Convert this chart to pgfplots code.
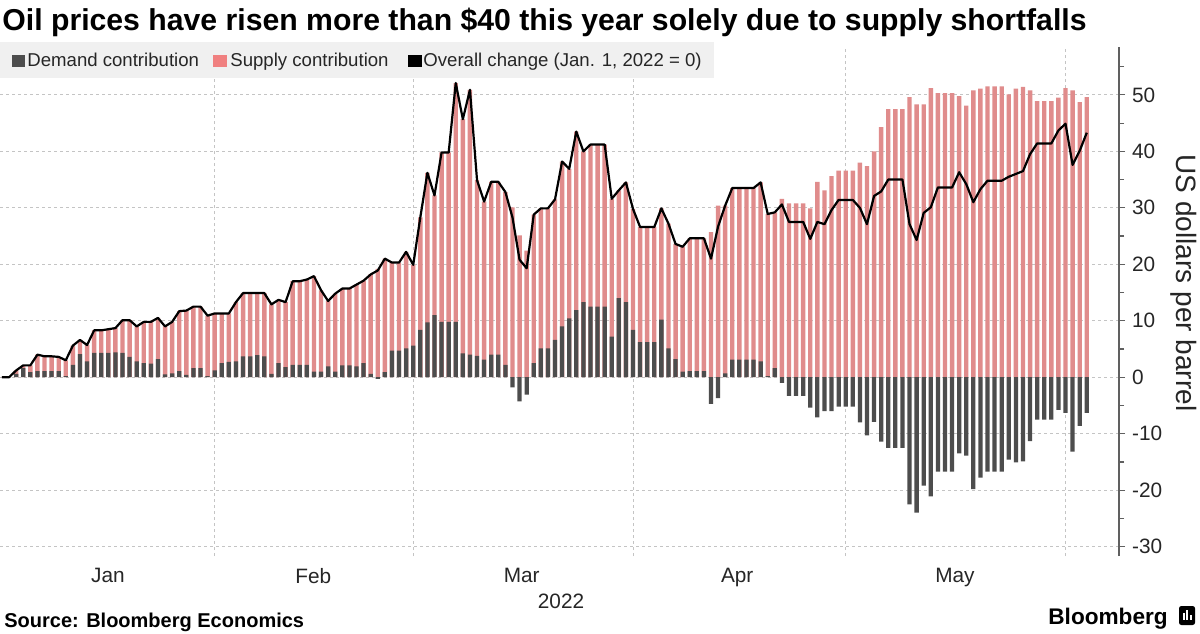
\documentclass[border=0pt]{standalone}
\usepackage{pgfplots}
\pgfplotsset{compat=1.18}
\usepackage{pgfplotstable}
\usepackage{fontspec}
\setmainfont{Liberation Sans}

\definecolor{demand}{HTML}{4D4D4D}
\definecolor{supply}{HTML}{E08C8C}
\definecolor{supplykey}{HTML}{F08080}
\definecolor{gridc}{HTML}{C4C4C4}
\definecolor{keybg}{HTML}{F0F0F0}
\definecolor{axisc}{HTML}{606060}

% day index, demand contribution, supply contribution (US$/bbl)
\pgfplotstableread{
i D S
0 0 0
1 0 0
2 0.6 0.6
3 1.6 0.5
4 0.9 1.2
5 1.1 2.9
6 1.1 2.6
7 1.1 2.6
8 1.1 2.5
9 0.2 2.8
10 2.2 3.4
11 4.1 2.5
12 2.8 2.9
13 4.3 4.0
14 4.3 4.0
15 4.3 4.2
16 4.4 4.3
17 4.3 5.8
18 3.6 6.5
19 2.8 6.2
20 2.5 7.3
21 2.4 7.4
22 3.2 7.3
23 0.5 8.5
24 0.7 9.1
25 1.1 10.6
26 0.4 11.4
27 1.6 10.9
28 1.6 10.9
29 0.2 10.7
30 1.2 10.1
31 2.5 8.8
32 2.7 8.6
33 2.8 10.5
34 3.7 11.2
35 3.7 11.2
36 3.9 11.0
37 3.7 11.2
38 0.6 12.3
39 2.5 11.2
40 1.8 11.5
41 2.2 14.8
42 2.2 14.8
43 2.2 15.1
44 1.0 16.9
45 1.0 14.4
46 1.9 11.6
47 1.0 13.8
48 2.1 13.6
49 2.1 13.6
50 1.9 14.5
51 2.5 14.6
52 0.6 17.6
53 -0.3 19.2
54 0.9 20.1
55 4.7 15.6
56 4.7 15.6
57 5.1 17.1
58 5.6 14.3
59 8.4 19.9
60 9.7 26.5
61 11.0 21.2
62 9.8 30.0
63 9.8 30.0
64 9.8 42.3
65 4.2 41.5
66 4.0 46.9
67 3.8 31.1
68 3.1 28.0
69 4.0 30.6
70 4.0 30.6
71 2.2 30.6
72 -1.8 30.1
73 -4.3 25.1
74 -3.1 22.4
75 2.5 26.3
76 5.1 24.8
77 5.1 24.8
78 6.6 24.9
79 9.0 29.2
80 10.4 26.5
81 11.9 31.6
82 13.3 26.7
83 12.5 28.7
84 12.5 28.7
85 12.5 28.7
86 7.2 24.4
87 14.0 19.1
88 13.3 21.2
89 8.4 21.4
90 6.2 20.4
91 6.2 20.4
92 6.2 20.4
93 10.2 19.7
94 5.1 22.1
95 3.2 20.4
96 1.0 22.1
97 1.1 23.5
98 1.1 23.5
99 1.1 23.5
100 -4.7 25.7
101 -3.7 30.4
102 0.7 29.7
103 3.1 30.4
104 3.1 30.4
105 3.1 30.4
106 3.1 30.4
107 2.8 31.7
108 0.2 28.7
109 1.6 27.6
110 -1.0 31.6
111 -3.3 30.8
112 -3.3 30.8
113 -3.3 30.8
114 -5.4 29.9
115 -7.1 34.6
116 -6.0 33.1
117 -6.0 35.6
118 -5.2 36.6
119 -5.2 36.6
120 -5.2 36.6
121 -8.0 38.0
122 -10.3 37.4
123 -7.9 40.0
124 -11.4 44.3
125 -12.5 47.5
126 -12.5 47.5
127 -12.5 47.5
128 -22.5 49.6
129 -24.0 48.3
130 -19.2 48.3
131 -21.1 51.2
132 -16.7 50.3
133 -16.7 50.3
134 -16.7 50.3
135 -13.5 49.8
136 -13.9 48.1
137 -19.8 50.8
138 -17.8 51.1
139 -16.7 51.5
140 -16.7 51.5
141 -16.7 51.5
142 -14.6 50.1
143 -15.1 51.1
144 -14.9 51.4
145 -11.3 50.8
146 -7.5 48.9
147 -7.5 48.9
148 -7.5 48.9
149 -5.8 49.5
150 -6.3 51.2
151 -13.2 50.8
152 -8.6 48.7
153 -6.3 49.6
}\oil

\begin{document}
\begin{tikzpicture}[x=0.5bp,y=0.5bp]
\useasboundingbox (0,0) rectangle (1200,633);
\fill[white] (0,0) rectangle (1200,633);

\begin{axis}[
  at={(0,136)}, anchor=south west,
  scale only axis, width=559.5bp, height=254.5bp,
  xmin=-0.28, xmax=157.55, ymin=-31.7, ymax=58.45,
  axis y line*=right, axis x line*=bottom,
  x axis line style={draw=none},
  y axis line style={draw=axisc, line width=0.6bp},
  xtick={14.95,43.9,73.3,103.7,134.4},
  xticklabels={Jan,Feb,Mar,Apr,May},
  minor xtick={30,58,89,119,150},
  xtick style={draw=none},
  xminorgrids=true,
  ytick={-30,-20,...,50},
  minor ytick={-25,-15,...,55},
  ymajorgrids=true,
  major grid style={draw=gridc, line width=0.5bp, dash pattern=on 1.5bp off 1.5bp},
  minor grid style={draw=gridc, line width=0.5bp, dash pattern=on 1.5bp off 1.5bp},
  ytick style={draw=axisc, line width=0.6bp},
  tick align=outside,
  major tick length=3bp, minor tick length=2.5bp,
  /pgf/number format/assume math mode=true,
  ticklabel style={font=\fontsize{10.4bp}{12bp}\selectfont, text=black!85},
  xticklabel shift=-0.5bp,
]
\addplot[ybar, bar width=0.62, bar shift=0pt, fill=supply, draw=none]
  table[x=i, y expr={\thisrow{S}+max(\thisrow{D},0)}] {\oil};
\addplot[ybar, bar width=0.6, bar shift=0pt, fill=demand, draw=none]
  table[x=i, y=D] {\oil};
\addplot[black, line width=1.1bp, line join=round, mark=none]
  table[x=i, y expr={\thisrow{D}+\thisrow{S}}] {\oil};
\end{axis}

% title
\node[anchor=base west, inner sep=0, font=\fontsize{15.1bp}{18bp}\selectfont\bfseries]
  at (2,602) {Oil prices have risen more than \$40 this year solely due to supply shortfalls};

% key
\fill[keybg] (0,591) rectangle (714,555);
\fill[demand] (12,578) rectangle (25,566);
\node[anchor=base west, inner sep=0, font=\fontsize{9.3bp}{11bp}\selectfont, text=black!85]
  at (27,566) {Demand contribution};
\fill[supplykey] (213,578) rectangle (227,566);
\node[anchor=base west, inner sep=0, font=\fontsize{9.3bp}{11bp}\selectfont, text=black!85]
  at (230,566) {Supply contribution};
\fill[black] (408,578) rectangle (422,566);
\node[anchor=base west, inner sep=0, font=\fontsize{9.3bp}{11bp}\selectfont, text=black!85]
  at (423,566) {Overall change (Jan. 1, 2022 = 0)};

% axis titles
\node[rotate=-90, inner sep=0, font=\fontsize{14bp}{16bp}\selectfont, text=black!85]
  at (1184,350) {US dollars per barrel};
\node[anchor=base, inner sep=0, font=\fontsize{10.4bp}{12bp}\selectfont, text=black!85]
  at (561,25) {2022};

% footer
\node[anchor=base west, inner sep=0, font=\fontsize{10bp}{12bp}\selectfont\bfseries]
  at (4,6) {Source: Bloomberg Economics};
\node[anchor=base west, inner sep=0, font=\fontsize{11.3bp}{13bp}\selectfont\bfseries]
  at (1048,9) {Bloomberg};
\fill[black, rounded corners=1.2bp] (1179,27) rectangle (1195,8);
\fill[white] (1182.5,13) rectangle (1184.5,20);
\fill[white] (1186,13) rectangle (1188,23);
\fill[white] (1189.5,13) rectangle (1191.5,18);
\end{tikzpicture}
\end{document}
